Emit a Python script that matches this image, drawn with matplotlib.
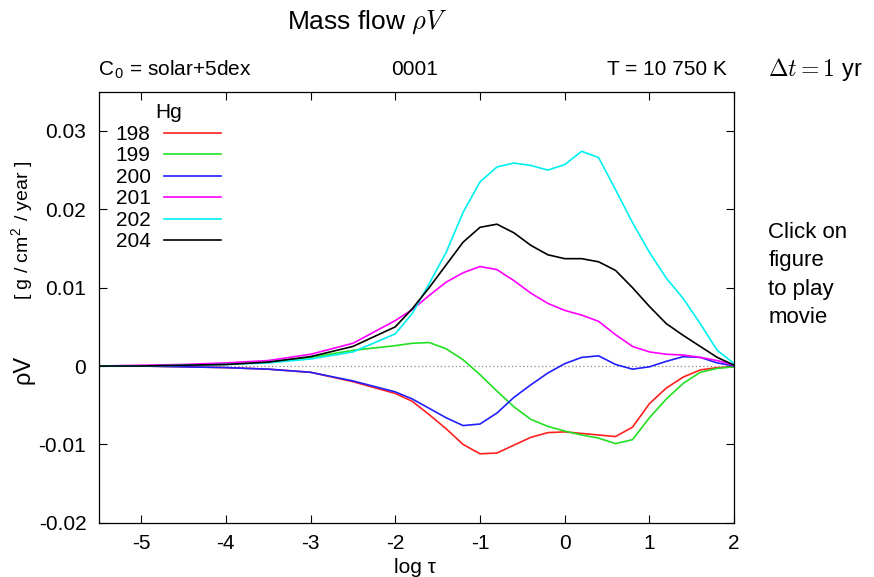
import numpy as np
import matplotlib
matplotlib.use('Agg')
from matplotlib import pyplot as plt

plt.rcParams['font.family'] = ['Liberation Sans', 'DejaVu Sans']
plt.rcParams['mathtext.fontset'] = 'cm'
plt.rcParams['axes.unicode_minus'] = False

# log tau grid and mass flow for each Hg isotope
log_tau = [-5.5, -5.0, -4.5, -4.0, -3.5, -3.0, -2.5, -2.0, -1.8, -1.6, -1.4, -1.2, -1.0, -0.8,
           -0.6, -0.4, -0.2, 0.0, 0.2, 0.4, 0.6, 0.8, 1.0, 1.2, 1.4, 1.6, 1.8, 2.0]

hg198 = [0.0, 0.0, -0.0001, -0.0002, -0.0004, -0.0008, -0.0020, -0.0035, -0.0045, -0.0062,
         -0.0080, -0.0100, -0.0112, -0.0111, -0.0101, -0.0091, -0.0085, -0.0084, -0.0086,
         -0.0088, -0.0090, -0.0078, -0.0048, -0.0028, -0.0014, -0.0005, -0.0002, -0.0001]
hg199 = [0.0, 0.0, 0.0001, 0.0002, 0.0005, 0.0011, 0.0020, 0.0026, 0.0029, 0.0030,
         0.0022, 0.0008, -0.0011, -0.0032, -0.0052, -0.0068, -0.0077, -0.0083, -0.0088,
         -0.0092, -0.0099, -0.0094, -0.0066, -0.0042, -0.0022, -0.0008, -0.0003, -0.0001]
hg200 = [0.0, 0.0, -0.0001, -0.0002, -0.0004, -0.0008, -0.0019, -0.0033, -0.0042, -0.0054,
         -0.0066, -0.0076, -0.0074, -0.0060, -0.0040, -0.0024, -0.0009, 0.0003, 0.0011,
         0.0013, 0.0002, -0.0004, -0.0001, 0.0006, 0.0012, 0.0011, 0.0004, 0.0]
hg201 = [0.0, 0.0001, 0.0002, 0.0004, 0.0007, 0.0015, 0.0029, 0.0058, 0.0072, 0.0090,
         0.0107, 0.0119, 0.0127, 0.0123, 0.0109, 0.0093, 0.0080, 0.0071, 0.0065,
         0.0057, 0.0040, 0.0025, 0.0018, 0.0015, 0.0014, 0.0011, 0.0007, 0.0001]
hg202 = [0.0, 0.0, 0.0001, 0.0002, 0.0004, 0.0009, 0.0018, 0.0041, 0.0067, 0.0105,
         0.0145, 0.0196, 0.0235, 0.0254, 0.0259, 0.0256, 0.0250, 0.0257, 0.0274,
         0.0266, 0.0225, 0.0183, 0.0145, 0.0112, 0.0086, 0.0054, 0.0020, 0.0003]
hg204 = [0.0, 0.0, 0.0001, 0.0002, 0.0005, 0.0012, 0.0025, 0.0050, 0.0073, 0.0100,
         0.0129, 0.0158, 0.0177, 0.0181, 0.0170, 0.0154, 0.0142, 0.0137, 0.0137,
         0.0133, 0.0122, 0.0100, 0.0076, 0.0054, 0.0039, 0.0025, 0.0011, 0.0001]

labels = ['198', '199', '200', '201', '202', '204']
series = [hg198, hg199, hg200, hg201, hg202, hg204]
colors = ['#ff2020', '#22e022', '#2020ff', '#ff00ff', '#00f0f0', '#000000']

fig = plt.figure(figsize=(8.74, 5.77), dpi=100)
ax = fig.add_axes([0.113, 0.094, 0.727, 0.747])

ax.axhline(0, color='#888888', lw=0.9, ls=(0, (1, 2)))
for y, c, lab in zip(series, colors, labels):
    ax.plot(log_tau, y, color=c, lw=1.2, label=lab)

ax.set_xlim(-5.5, 2)
ax.set_ylim(-0.02, 0.035)
ax.set_xticks(range(-5, 3))
ax.set_yticks([-0.02, -0.01, 0, 0.01, 0.02, 0.03])
ax.set_yticklabels(['-0.02', '-0.01', '0', '0.01', '0.02', '0.03'])
ax.tick_params(direction='in', top=True, right=True, length=6, width=0.8, labelsize=15)
ax.tick_params(axis='x', pad=8)
ax.tick_params(axis='y', pad=9)
for s in ax.spines.values():
    s.set_linewidth(0.9)

leg = ax.legend(loc='upper left', bbox_to_anchor=(0.01, 0.997), frameon=False, fontsize=15,
                markerfirst=False, handlelength=2.75, labelspacing=0.12, title='Hg',
                title_fontsize=15, borderaxespad=0.1, handletextpad=0.65)

fig.text(0.42, 0.962, 'Mass flow $\\rho V$', ha='center', va='center', fontsize=19)
fig.text(0.112, 0.879, 'C$_\\mathregular{0}$ = solar+5dex', ha='left', va='center', fontsize=15)
fig.text(0.474, 0.879, '0001', ha='center', va='center', fontsize=15)
fig.text(0.832, 0.879, 'T = 10 750 K', ha='right', va='center', fontsize=15)
fig.text(0.879, 0.879, '$\\Delta t = 1$ yr', ha='left', va='center', fontsize=17)
fig.text(0.879, 0.615, 'Click on\nfigure\nto play\nmovie', ha='left', va='top',
         fontsize=16, linespacing=1.45)

fig.text(0.027, 0.359, 'ρV', rotation=90, ha='center', va='center', fontsize=17)
fig.text(0.026, 0.601, '[ g / cm$^\\mathregular{2}$ / year ]', rotation=90, ha='center',
         va='center', fontsize=14)
fig.text(0.475, 0.017, 'log τ', ha='center', va='center', fontsize=15)

fig.savefig('out.png', dpi=100)
